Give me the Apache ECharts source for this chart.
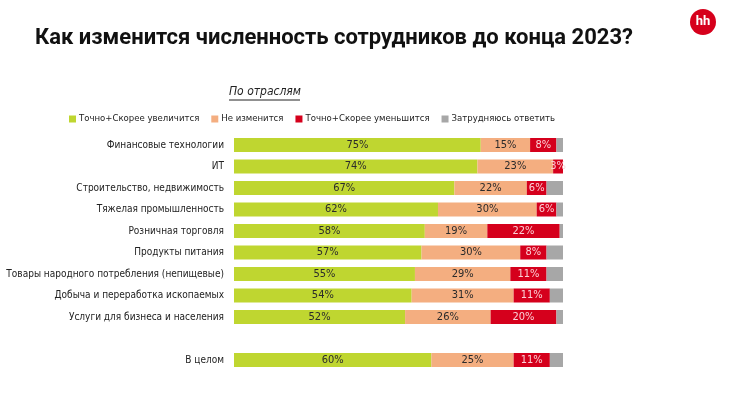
<!DOCTYPE html>
<html>
<head>
<meta charset="utf-8">
<script src="https://cdn.jsdelivr.net/npm/echarts@6/dist/echarts.min.js"></script>
<style>
  html, body { margin: 0; padding: 0; background: #fff; }
  #chart { width: 730px; height: 398px; }
</style>
</head>
<body>
<div id="chart"></div>
<script>
// отрасли (пустая строка - отступ перед "В целом")
const categories = [
  'Финансовые технологии',
  'ИТ',
  'Строительство, недвижимость',
  'Тяжелая промышленность',
  'Розничная торговля',
  'Продукты питания',
  'Товары народного потребления (непищевые)',
  'Добыча и переработка ископаемых',
  'Услуги для бизнеса и населения',
  '',
  'В целом'
]
const increase = [75, 74, 67, 62, 58, 57, 55, 54, 52, '-', 60]
const noChange = [15, 23, 22, 30, 19, 30, 29, 31, 26, '-', 25]
const decrease = [8, 3, 6, 6, 22, 8, 11, 11, 20, '-', 11]
const unsure = [2, 0, 5, 2, 1, 5, 5, 4, 2, '-', 4]

const seriesNames = ['Точно+Скорее увеличится', 'Не изменится', 'Точно+Скорее уменьшится', 'Затрудняюсь ответить']
const colors = ['#bfd630', '#f4ae80', '#d5001c', '#a7a7a7']
const labelColors = ['#2b2b2b', '#2b2b2b', '#fbd0d6', '#fff']

const font = '"DejaVu Sans Condensed", "Roboto", sans-serif'

const chart = echarts.init(document.getElementById('chart'))

function makeSeries(name, data, i) {
  return {
    name,
    type: 'bar',
    stack: 'total',
    data,
    barWidth: 14,
    itemStyle: { color: colors[i] },
    label: {
      show: i < 3,
      position: 'inside',
      color: labelColors[i],
      fontFamily: font,
      fontSize: 11,
      formatter: p => (p.value > 0 ? p.value + '%' : '')
    }
  }
}

chart.setOption({
  animation: false,
  textStyle: { fontFamily: font },
  legend: {
    data: seriesNames,
    left: 64,
    top: 109,
    itemWidth: 7,
    itemHeight: 7,
    itemGap: 12,
    icon: 'rect',
    textStyle: { fontFamily: font, fontSize: 9.5, color: '#222', padding: [0, 0, 0, -2] }
  },
  grid: { left: 234, right: 167, top: 134.25, bottom: 27.25, containLabel: false, outerBoundsMode: 'none' },
  xAxis: {
    type: 'value',
    min: 0,
    max: 100,
    show: false
  },
  yAxis: {
    type: 'category',
    data: categories,
    inverse: true,
    axisLine: { show: false },
    axisTick: { show: false },
    axisLabel: { color: '#222', fontSize: 10, fontFamily: font, margin: 10 }
  },
  graphic: [
    {
      type: 'text',
      left: 35,
      top: 27,
      style: {
        text: 'Как изменится численность сотрудников до конца 2023?',
        fontSize: 22,
        fontWeight: 'bold',
        fontFamily: 'Roboto, sans-serif',
        fill: '#111'
      }
    },
    {
      type: 'circle',
      shape: { cx: 703, cy: 22, r: 13 },
      style: { fill: '#d6001c' }
    },
    {
      type: 'text',
      x: 703,
      y: 22,
      style: {
        text: 'hh',
        fontSize: 13,
        fontWeight: 'bold',
        fontFamily: 'Roboto, sans-serif',
        fill: '#fff',
        align: 'center',
        verticalAlign: 'middle'
      }
    },
    {
      type: 'text',
      left: 229,
      top: 86,
      style: {
        text: 'По отраслям',
        fontSize: 12,
        fontStyle: 'italic',
        fontFamily: font,
        fill: '#222'
      }
    },
    {
      type: 'line',
      shape: { x1: 229, y1: 100, x2: 300, y2: 100 },
      style: { stroke: '#222', lineWidth: 1 }
    }
  ],
  series: [
    makeSeries(seriesNames[0], increase, 0),
    makeSeries(seriesNames[1], noChange, 1),
    makeSeries(seriesNames[2], decrease, 2),
    makeSeries(seriesNames[3], unsure, 3)
  ]
})
</script>
</body>
</html>
